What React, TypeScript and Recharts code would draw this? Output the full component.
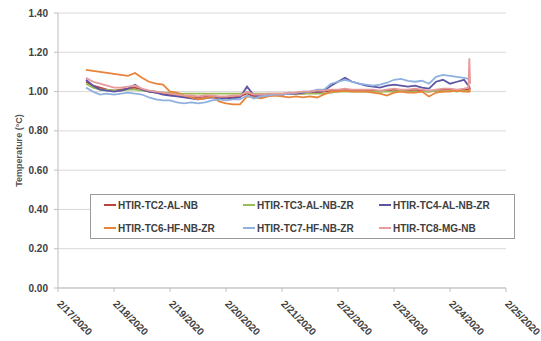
import React from 'react';
import { LineChart, Line, XAxis, YAxis, CartesianGrid, Legend, Label } from 'recharts';

// day offsets from 2/17/2020 00:00
const times = [
  0.5, 0.625, 0.75, 0.875, 1, 1.125, 1.25, 1.375, 1.5, 1.625,
  1.75, 1.875, 2, 2.125, 2.25, 2.375, 2.5, 2.625, 2.75, 2.875,
  3, 3.125, 3.25, 3.375, 3.5, 3.625, 3.75, 3.875, 4, 4.125,
  4.25, 4.375, 4.5, 4.625, 4.75, 4.875, 5, 5.125, 5.25, 5.375,
  5.5, 5.625, 5.75, 5.875, 6, 6.125, 6.25, 6.375, 6.5, 6.625,
  6.75, 6.875, 7, 7.125, 7.25, 7.33, 7.345, 7.36,
];

const tc2 = [
  1.05, 1.03, 1.02, 1.01, 1.005, 1.01, 1.015, 1.02, 1.01, 1.0,
  0.995, 0.99, 0.985, 0.98, 0.975, 0.97, 0.97, 0.975, 0.975, 0.97,
  0.97, 0.97, 0.975, 0.99, 0.975, 0.975, 0.98, 0.985, 0.985, 0.99,
  0.99, 0.99, 0.995, 0.995, 1.0, 1.005, 1.005, 1.01, 1.005, 1.005,
  1.005, 1.005, 1.0, 1.005, 1.01, 1.005, 1.005, 1.01, 1.005, 1.0,
  1.005, 1.01, 1.01, 1.005, 1.01, 1.01, 1.02, 1.01,
];
const tc3 = [
  1.04, 1.02, 1.01, 1.01, 1.005, 1.005, 1.01, 1.01, 1.005, 1.005,
  1.0, 0.995, 0.995, 0.99, 0.99, 0.99, 0.99, 0.99, 0.99, 0.99,
  0.99, 0.99, 0.99, 0.995, 0.99, 0.99, 0.99, 0.99, 0.99, 0.99,
  0.99, 0.99, 0.99, 0.99, 0.99, 0.995, 1.0, 1.0, 1.0, 1.0,
  1.0, 1.0, 1.0, 1.0, 1.0, 1.005, 1.0, 1.0, 1.0, 1.0,
  1.005, 1.0, 1.005, 1.0, 1.005, 1.0, 1.0, 1.0,
];
const tc4 = [
  1.06, 1.03, 1.01, 1.005, 1.0, 1.005, 1.015, 1.035, 1.01, 1.0,
  0.995, 0.985, 0.98, 0.975, 0.97, 0.965, 0.96, 0.965, 0.97, 0.965,
  0.965, 0.965, 0.97, 1.025, 0.98, 0.975, 0.98, 0.985, 0.985, 0.99,
  0.99, 0.995, 1.0, 1.0, 1.005, 1.03, 1.05, 1.07, 1.05, 1.04,
  1.03, 1.025, 1.02, 1.03, 1.035, 1.03, 1.025, 1.03, 1.02, 1.015,
  1.05, 1.06, 1.04, 1.05, 1.06, 1.03, 1.02, 1.02,
];
const tc6 = [
  1.11, 1.105, 1.1, 1.095, 1.09, 1.085, 1.08, 1.095, 1.07, 1.05,
  1.04, 1.035, 1.0, 0.995, 0.98, 0.97, 0.96, 0.965, 0.975, 0.95,
  0.94, 0.935, 0.935, 0.975, 0.97, 0.965, 0.975, 0.98, 0.975, 0.97,
  0.975, 0.97, 0.975, 0.97, 0.985, 1.0, 1.0, 1.005, 1.0, 1.0,
  1.0, 0.995, 0.99, 0.98, 0.995, 1.0, 0.995, 0.995, 1.0, 0.975,
  0.995, 1.0, 1.0, 1.005, 1.0, 1.0, 1.01, 1.0,
];
const tc7 = [
  1.02, 1.0, 0.985, 0.99, 0.985, 0.99, 0.995, 0.99, 0.985, 0.97,
  0.96, 0.955, 0.955, 0.945, 0.94, 0.945, 0.94, 0.945, 0.955, 0.96,
  0.955, 0.96, 0.96, 0.98, 0.965, 0.975, 0.98, 0.985, 0.985, 0.99,
  0.995, 1.0, 1.0, 1.01, 1.01, 1.04, 1.05, 1.06, 1.05, 1.04,
  1.035, 1.03, 1.035, 1.045, 1.06, 1.065, 1.055, 1.05, 1.055, 1.04,
  1.075, 1.085, 1.08, 1.075, 1.07, 1.065, 1.06, 1.06,
];
const tc8 = [
  1.07, 1.05, 1.04, 1.03, 1.02, 1.02, 1.025, 1.03, 1.015, 1.005,
  1.0, 0.995, 0.99, 0.985, 0.98, 0.98, 0.975, 0.98, 0.98, 0.975,
  0.975, 0.98, 0.98, 1.0, 0.985, 0.985, 0.99, 0.99, 0.99, 0.995,
  0.995, 1.0, 1.0, 1.005, 1.005, 1.01, 1.01, 1.015, 1.01, 1.01,
  1.01, 1.01, 1.005, 1.01, 1.015, 1.01, 1.01, 1.015, 1.01, 1.005,
  1.01, 1.015, 1.015, 1.01, 1.015, 1.02, 1.17, 1.04,
];

const seriesNames = [
  'HTIR-TC2-AL-NB',
  'HTIR-TC3-AL-NB-ZR',
  'HTIR-TC4-AL-NB-ZR',
  'HTIR-TC6-HF-NB-ZR',
  'HTIR-TC7-HF-NB-ZR',
  'HTIR-TC8-MG-NB',
];
const seriesValues = [tc2, tc3, tc4, tc6, tc7, tc8];
const seriesColors = ['#b8433f', '#9bbb59', '#5c55a3', '#e8843a', '#8fb1e0', '#e79a9a'];

const dayTicks = [0, 1, 2, 3, 4, 5, 6, 7, 8];
const dateLabels = [
  '2/17/2020', '2/18/2020', '2/19/2020', '2/20/2020', '2/21/2020',
  '2/22/2020', '2/23/2020', '2/24/2020', '2/25/2020',
];
const tempTicks = [0, 0.2, 0.4, 0.6, 0.8, 1.0, 1.2, 1.4];

const rows = times.map((t, i) => {
  const row: Record<string, number> = { t };
  seriesNames.forEach((name, s) => {
    row[name] = seriesValues[s][i];
  });
  return row;
});

const FONT = '"Liberation Sans", Arial, sans-serif';

const DateTick = (props: any) => {
  const { x, y, payload } = props;
  const label = dateLabels[dayTicks.indexOf(payload.value)];
  const tx = x + 1;
  const ty = y + 8;
  return (
    <text
      x={tx}
      y={ty}
      dy="0.35em"
      transform={`rotate(45 ${tx} ${ty})`}
      textAnchor="start"
      fontFamily={FONT}
      fontSize={10}
      fontWeight="bold"
      fill="#404040"
    >
      {label}
    </text>
  );
};

const LegendBox = () => {
  const cols = [103, 242, 378];
  return (
    <div
      style={{
        position: 'relative',
        width: 425,
        height: 45,
        border: '1px solid #9a9a9a',
        background: '#fff',
        boxSizing: 'border-box',
        fontFamily: FONT,
        fontSize: 10,
        fontWeight: 'bold',
        color: '#404040',
      }}
    >
      {seriesNames.map((name, i) => {
        const col = i % 3;
        const row = Math.floor(i / 3);
        return (
          <div
            key={name}
            style={{
              position: 'absolute',
              left: cols[col] - 90,
              top: row === 0 ? 4 : 27,
              display: 'flex',
              alignItems: 'center',
              height: 12,
              whiteSpace: 'nowrap',
            }}
          >
            <span
              style={{
                display: 'inline-block',
                width: 12,
                height: 2,
                background: seriesColors[i],
                marginRight: 2,
              }}
            />
            {name}
          </div>
        );
      })}
    </div>
  );
};

export default function App() {
  return (
    <div style={{ position: 'absolute', left: 0, top: 0, background: '#fff' }}>
      <LineChart
        width={541}
        height={341}
        data={rows}
        margin={{ top: 13, right: 35, bottom: 0, left: 10 }}
      >
        <CartesianGrid vertical={false} stroke="#d9d9d9" strokeWidth={1} />
        <XAxis
          dataKey="t"
          type="number"
          domain={[0, 8]}
          ticks={dayTicks}
          interval={0}
          height={53}
          tick={<DateTick />}
          tickSize={4}
          stroke="#bfbfbf"
          allowDataOverflow
        />
        <YAxis
          type="number"
          domain={[0, 1.4]}
          ticks={tempTicks}
          interval={0}
          width={48}
          tickSize={4}
          tickMargin={6}
          stroke="#bfbfbf"
          tickFormatter={(v: number) => v.toFixed(2)}
          tick={{ fontFamily: FONT, fontSize: 10, fontWeight: 'bold', fill: '#404040' }}
        >
          <Label
            content={(p: any) => {
              const vb = p.viewBox || {};
              const cx = 19;
              const cy = (vb.y ?? 13) + (vb.height ?? 275) / 2;
              return (
                <text
                  x={cx}
                  y={cy}
                  transform={`rotate(-90 ${cx} ${cy})`}
                  textAnchor="middle"
                  dominantBaseline="central"
                  fontFamily={FONT}
                  fontSize={9}
                  fontWeight="bold"
                  fill="#555555"
                >
                  Temperature (°C)
                </text>
              );
            }}
          />
        </YAxis>
        <Legend
          layout="vertical"
          align="center"
          verticalAlign="middle"
          content={() => <LegendBox />}
          wrapperStyle={{ left: 90, top: 194, width: 425, height: 45 }}
        />
        {seriesNames.map((name, i) => (
          <Line
            key={name}
            type="linear"
            dataKey={name}
            stroke={seriesColors[i]}
            strokeWidth={1.8}
            dot={false}
            activeDot={false}
            isAnimationActive={false}
          />
        ))}
      </LineChart>
    </div>
  );
}
